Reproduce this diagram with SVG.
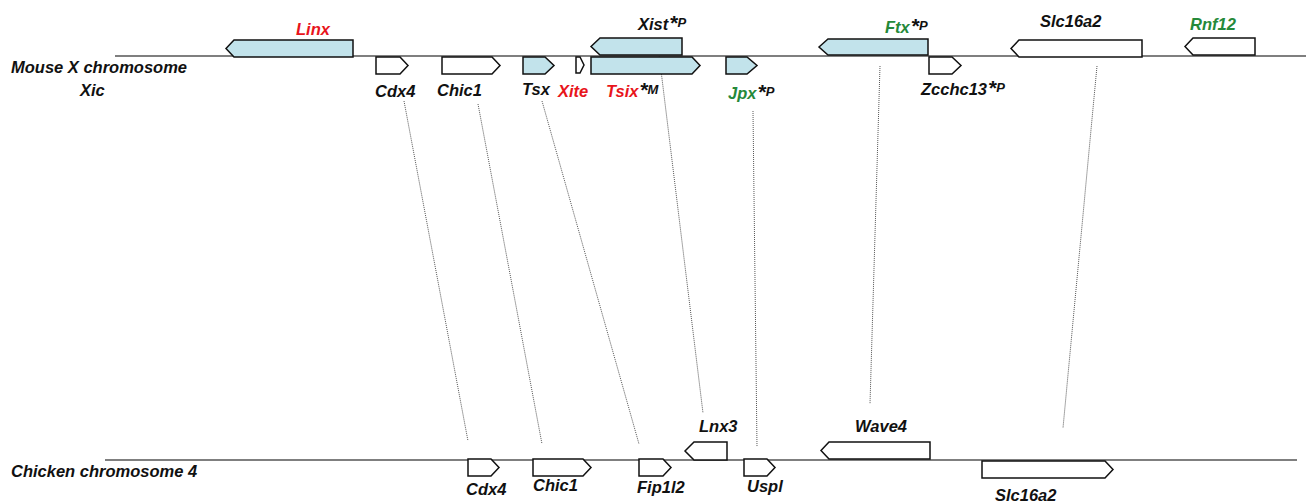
<svg xmlns="http://www.w3.org/2000/svg" width="1306" height="504" viewBox="0 0 1306 504">
<style>
text{font-family:"Liberation Sans",Arial,sans-serif;font-weight:bold;font-style:italic;font-size:16.5px;fill:#111}
.red{fill:#e8141b}
.grn{fill:#25893a}
.sup{font-size:13px}
.ast{font-size:21px}
.chr{stroke:#555;stroke-width:1.5;fill:none}
.g{stroke:#111;stroke-width:1.5;fill:#fff;stroke-linejoin:miter}
.b{fill:#c2e3eb}
.c{stroke:#555;stroke-width:1;stroke-dasharray:1 1;fill:none}
</style>
<g id="chromosomes">
<line class="chr" x1="115" y1="56" x2="1306" y2="56"/>
<line class="chr" x1="105" y1="460" x2="1297" y2="460"/>
<text x="11" y="73">Mouse X chromosome</text>
<text x="80" y="96">Xic</text>
<text x="11" y="477">Chicken chromosome 4</text>
</g>
<g id="connectors">
<line class="c" x1="404" y1="101" x2="468" y2="441"/>
<line class="c" x1="478" y1="104" x2="542" y2="444"/>
<line class="c" x1="542" y1="101" x2="639" y2="444"/>
<line class="c" x1="658" y1="46" x2="703" y2="413"/>
<line class="c" x1="753" y1="111" x2="757" y2="447"/>
<line class="c" x1="880" y1="66" x2="870" y2="404"/>
<line class="c" x1="1097" y1="66" x2="1063" y2="428"/>
</g>
<g id="m-linx"><polygon class="g b" points="226,48.5 234,40 353,40 353,57 234,57"/><text class="red" x="296" y="35">Linx</text></g>
<g id="m-cdx4"><polygon class="g" points="376,57 400,57 408,65.5 400,74 376,74"/><text x="375" y="97">Cdx4</text></g>
<g id="m-chic1"><polygon class="g" points="442,57 492,57 500,65.5 492,74 442,74"/><text x="437" y="96">Chic1</text></g>
<g id="m-tsx"><polygon class="g b" points="523,57 545,57 554,65.5 545,74 523,74"/><text x="522" y="95">Tsx</text></g>
<g id="m-xite"><polygon class="g" points="576,57 580,57 584,65 580,73 576,73"/><text class="red" x="558" y="97">Xite</text></g>
<g id="m-tsix"><polygon class="g b" points="591,57 692,57 700,65.5 692,74 591,74"/><text x="606" y="97"><tspan class="red">Tsix</tspan><tspan class="ast" dx="1">*</tspan><tspan class="sup" dy="-3">M</tspan></text></g>
<g id="m-xist"><polygon class="g b" points="591,46.5 600,38 682,38 682,55 600,55"/><text x="638" y="30">Xist<tspan class="ast" dx="1">*</tspan><tspan class="sup" dy="-3">P</tspan></text></g>
<g id="m-jpx"><polygon class="g b" points="726,57 747,57 757,65.5 747,74 726,74"/><text x="728" y="99"><tspan class="grn">Jpx</tspan><tspan class="ast" dx="1">*</tspan><tspan class="sup" dy="-3">P</tspan></text></g>
<g id="m-ftx"><polygon class="g b" points="819,47 828,39 928,39 928,55 828,55"/><text x="885" y="33"><tspan class="grn">Ftx</tspan><tspan class="ast" dx="1">*</tspan><tspan class="sup" dy="-3">P</tspan></text></g>
<g id="m-zcchc13"><polygon class="g" points="929,57 952,57 961,65.5 952,74 929,74"/><text x="921" y="95">Zcchc13<tspan class="ast" dx="1">*</tspan><tspan class="sup" dy="-3">P</tspan></text></g>
<g id="m-slc16a2"><polygon class="g" points="1011,48.5 1019,40 1142,40 1142,57 1019,57"/><text x="1040" y="27">Slc16a2</text></g>
<g id="m-rnf12"><polygon class="g" points="1185,46.5 1193,38 1255,38 1255,55 1193,55"/><text class="grn" x="1190" y="30">Rnf12</text></g>
<g id="c-cdx4"><polygon class="g" points="468,459 491,459 499,467.5 491,476 468,476"/><text x="466" y="495">Cdx4</text></g>
<g id="c-chic1"><polygon class="g" points="533,459 583,459 591,467.5 583,476 533,476"/><text x="533" y="491">Chic1</text></g>
<g id="c-fip1l2"><polygon class="g" points="639,459 663,459 671,467.5 663,476 639,476"/><text x="637" y="493">Fip1l2</text></g>
<g id="c-lnx3"><polygon class="g" points="685,451 694,442 727,442 727,460 694,460"/><text x="699" y="432">Lnx3</text></g>
<g id="c-uspl"><polygon class="g" points="744,459 767,459 775,467.5 767,476 744,476"/><text x="747" y="492">Uspl</text></g>
<g id="c-wave4"><polygon class="g" points="821,450.5 829,442 930,442 930,459 829,459"/><text x="855" y="432">Wave4</text></g>
<g id="c-slc16a2"><polygon class="g" points="982,461 1105,461 1113,469.5 1105,478 982,478"/><text x="995" y="501">Slc16a2</text></g>
</svg>
